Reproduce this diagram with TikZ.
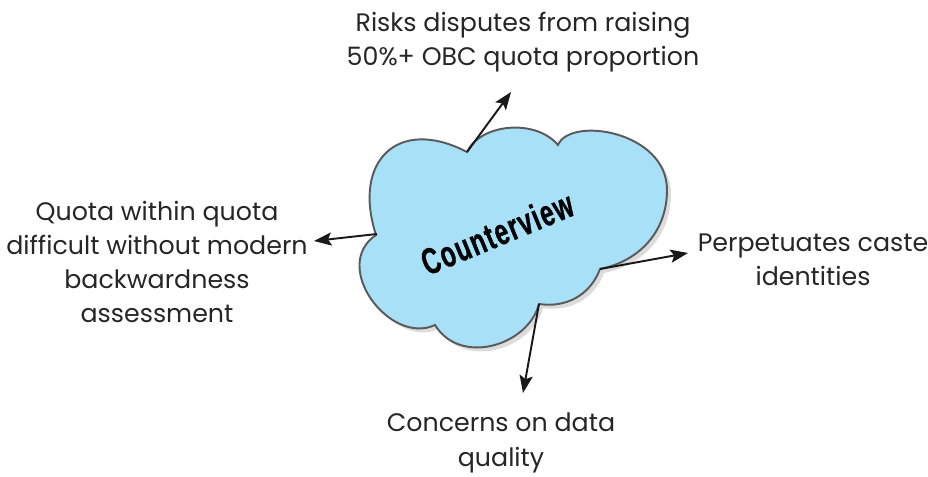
\documentclass[tikz,border=0pt]{standalone}
\usepackage{fontspec}
\setmainfont{Poppins}
\newfontfamily\cloudfont{Liberation Sans Bold}[FakeStretch=0.66,FakeBold=0.8,LetterSpace=4]
\usepackage{tikz}
\usetikzlibrary{calc,arrows.meta,positioning,shapes}

\definecolor{cloudblue}{RGB}{168,224,248}
\definecolor{cloudline}{RGB}{90,90,90}
\definecolor{cloudshade}{RGB}{220,220,220}

% outline of the cloud, in pixel units
\newcommand{\cloudoutline}{(376,241) .. controls (352,315) and (398,360) .. (467,324)
	.. controls (480,352) and (535,358) .. (558,331)
	.. controls (570,360) and (667,345) .. (667,286)
	.. controls (667,245) and (640,215) .. (600,207)
	.. controls (590,180) and (565,168) .. (539,172)
	.. controls (528,130) and (460,110) .. (435,151)
	.. controls (390,130) and (330,210) .. cycle}

\begin{document}
\begin{tikzpicture}[x=0.02cm,y=0.02cm,
	idea/.style={align=center,font=\fontsize{14.4pt}{19.5pt}\selectfont,text=black!85,inner sep=0pt},
	title/.style={font=\cloudfont\fontsize{21pt}{24pt}\selectfont,rotate=22.5,inner sep=0pt},
	paths/.style={-{Stealth[length=10pt,width=7.5pt,inset=2pt]}, line width=1.1pt, black!90},
	shade/.style={fill=cloudshade},
	cloud/.style={fill=cloudblue,draw=cloudline,line width=1.1pt}
	]
\useasboundingbox (0,0) rectangle (928,476);

% the cloud with its shadow
\fill [shade] [shift={(4,-4)}] \cloudoutline;
\path [cloud] \cloudoutline;
\node [title] (cv) at (497,243) {Counterview};

% notches of the cloud where the arrows leave
\coordinate (nleft) at (377,242);
\coordinate (ntop) at (467,324);
\coordinate (nright) at (600,207);
\coordinate (nbottom) at (539,172);

% arrow ends
\coordinate (eleft) at (314,235);
\coordinate (etop) at (511,384);
\coordinate (eright) at (688,223);
\coordinate (ebottom) at (523,83);

\node [idea] (risks) at (523,434) {Risks disputes from raising\\50\%+ OBC quota proportion};
\node [idea] (quota) at (157,214) {Quota within quota\\difficult without modern\\backwardness\\assessment};
\node [idea] (caste) at (813,216) {Perpetuates caste\\identities};
\node [idea] (data) at (501,33) {Concerns on data\\quality};

\draw [paths] (ntop) -- (etop);
\draw [paths] (nleft) -- (eleft);
\draw [paths] (nright) -- (eright);
\draw [paths] (nbottom) -- (ebottom);
\end{tikzpicture}
\end{document}
